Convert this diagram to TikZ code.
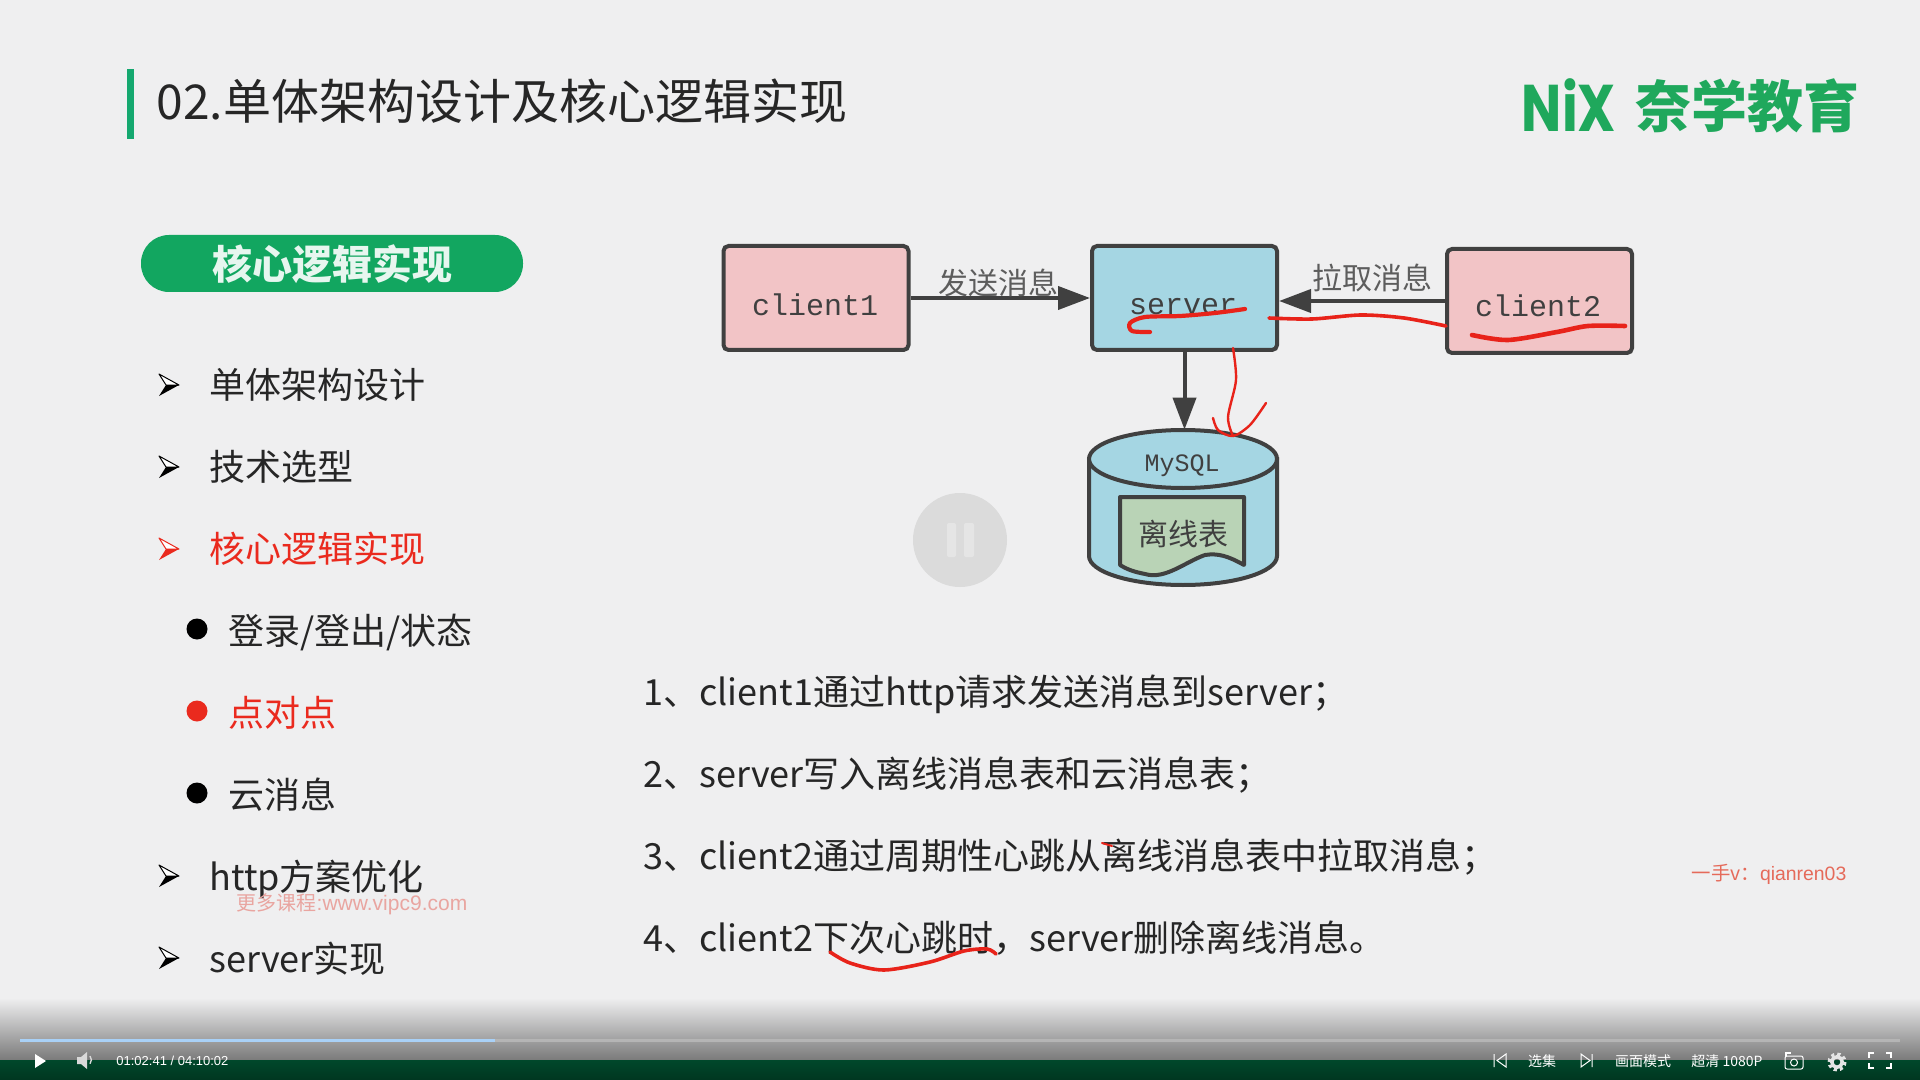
\documentclass[tikz,border=0pt]{standalone}
\usepackage{fontspec}
\setmainfont{Noto Sans CJK SC}
\newfontfamily\arialfont{Liberation Sans}
\newfontfamily\monofont{Liberation Mono}
\newfontfamily\logofont{Poppins}
\usetikzlibrary{arrows.meta}
\definecolor{bgc}{HTML}{EFEFF0}
\definecolor{barc}{HTML}{14A86F}
\definecolor{pillc}{HTML}{12A660}
\definecolor{logoc}{HTML}{1FA85C}
\definecolor{inkc}{HTML}{262626}
\definecolor{redc}{HTML}{EA2A1E}
\definecolor{linec}{HTML}{404040}
\definecolor{pinkc}{HTML}{F2C4C6}
\definecolor{bluec}{HTML}{A5D6E3}
\definecolor{greenc}{HTML}{B9D3B6}
\definecolor{handc}{HTML}{E8231A}
\definecolor{fadec}{HTML}{7A7A7A}
\definecolor{darkatop}{HTML}{00482B}
\definecolor{darkabot}{HTML}{003620}
\definecolor{barblue}{HTML}{A9D1F7}
\definecolor{markc}{HTML}{E9A5A0}
\definecolor{markd}{HTML}{E56A5A}
\tikzset{
  txt/.style={anchor=base west, inner sep=0, text=inkc, font=\fontsize{18}{18}\selectfont},
  redtxt/.style={txt, text=redc},
  box/.style={draw=linec, line width=2pt, rounded corners=2.5pt, minimum width=92.5pt, minimum height=52pt, inner sep=0},
  boxlbl/.style={inner sep=0, text=linec, font=\monofont\fontsize{15}{15}\selectfont},
  msg/.style={inner sep=0, text=linec!85, font=\fontsize{15}{15}\selectfont},
  link/.style={draw=linec, line width=2pt, -{Triangle[length=16pt,width=11.5pt]}},
  hand/.style={handc, line width=1.8pt, line cap=round, line join=round},
  ctl/.style={inner sep=0, text=white, font=\fontsize{7}{7}\selectfont},
  dot/.style={circle, fill, minimum size=10.5pt, inner sep=0},
}
\newcommand{\arrowbullet}[3]{
  \filldraw[draw=#3, fill=white, line width=.5pt, line join=round] (#1-10,#2-11) -- (#1+10,#2) -- (#1-3,#2) -- cycle;
  \fill[#3] (#1-10,#2+11) -- (#1+10,#2) -- (#1-3,#2) -- cycle;
}
\begin{document}
\begin{tikzpicture}[x=.5pt,y=-.5pt]
\useasboundingbox (0,0) rectangle (1920,1080);
\fill[bgc] (0,0) rectangle (1920,1080);
\fill[barc] (127,69) rectangle (134,139);
\node[inner sep=0, anchor=west, text=inkc, font=\fontsize{24}{24}\selectfont] (title) at (156,101){02.单体架构设计及核心逻辑实现};
\node[inner sep=0, text=logoc, font=\logofont\bfseries\fontsize{33}{33}\selectfont] (logo0) at (1569,105){\scalebox{.81}[1]{NiX}};
\node[inner sep=0, text=logoc, font=\bfseries\fontsize{28}{28}\selectfont] (logo1) at (1747,106){奈学教育};
\node[rounded corners=14pt, fill=pillc, minimum width=191pt, minimum height=28.5pt, inner sep=0] (pill) at (332,263.5){};
\node[inner sep=0, text=white!90!pillc, font=\bfseries\fontsize{20}{20}\selectfont] (pilltxt) at (332,264){核心逻辑实现};
\arrowbullet{169}{385}{black}
\node[txt] (lid0) at (209,398){单体架构设计};
\arrowbullet{169}{467}{black}
\node[txt] (lid1) at (209,480){技术选型};
\arrowbullet{169}{549}{redc}
\node[redtxt] (lid2) at (209,562){核心逻辑实现};
\node[dot, black] (dot0) at (197,629){};
\node[txt] (lid3) at (228,644){登录/登出/状态};
\node[dot, redc] (dot1) at (197,711){};
\node[redtxt] (lid4) at (228,726){点对点};
\node[dot, black] (dot2) at (197,793){};
\node[txt] (lid5) at (228,808){云消息};
\arrowbullet{169}{876}{black}
\node[txt] (lid6) at (209,890){http方案优化};
\arrowbullet{169}{958}{black}
\node[txt] (lid7) at (209,972){server实现};
\node[inner sep=0, text=markc, font=\fontsize{10}{10}\selectfont] (mark0) at (352,904){更多课程{\arialfont\fontsize{10.5}{10}\selectfont :www.vipc9.com}};
\node[box, fill=pinkc] (client1) at (816,298){};
\node[box, fill=bluec] (server) at (1184.5,298){};
\node[box, fill=pinkc] (client2) at (1539.5,301){};
\node[boxlbl] (c1lbl) at (815,305){client1};
\node[boxlbl] (srvlbl) at (1183,307){server};
\node[boxlbl] (c2lbl) at (1538,306){client2};
\draw[link](client1) -- (server);
\draw[link](client2.west) -- (server.east |- client2.west);
\node[msg] (msg0) at (998,283){发送消息};
\node[msg] (msg1) at (1372,278){拉取消息};
\node[minimum width=94pt, minimum height=77.5pt, inner sep=0] (mysql) at (1184.5,507.5){};
\filldraw[draw=linec, line width=2pt, fill=bluec] (1089,459) -- (1089,556) .. controls (1089,572) and (1131,585) .. (1183,585) .. controls (1235,585) and (1277,572) .. (1277,556) -- (1277,459) -- cycle;
\filldraw[draw=linec, line width=2pt, fill=bluec] (1183,459) ellipse [x radius=47pt, y radius=14.5pt];
\draw[link](server.south) -- (mysql.north);
\node[inner sep=0, text=linec, font=\monofont\fontsize{12.5}{13}\selectfont] (dblbl) at (1182,466){MySQL};
\draw[linec, line width=2pt, fill=greenc, line join=round] (1120,497) -- (1244,497) -- (1244,565) .. controls (1228,556) and (1218,553) .. (1205,555) .. controls (1185,562) and (1165,580) .. (1145,574) .. controls (1135,572) and (1128,570) .. (1120,565) -- cycle;
\node[msg, text=linec] (tbl) at (1183,534){离线表};
\draw[hand, line width=2.1pt] plot[smooth] coordinates {(1150,332) (1132,331) (1130,323) (1145,317) (1180,316) (1215,313) (1245,309)};
\draw[hand] plot[smooth] coordinates {(1269,318) (1312,319) (1361,315) (1404,318) (1446,326)};
\draw[hand, line width=2.3pt] plot[smooth] coordinates {(1472,335) (1508,340) (1557,332) (1588,326) (1625,326)};
\draw[hand, line width=1.2pt] plot[smooth] coordinates {(1233,348) (1236,380) (1228,417) (1233,436)};
\draw[hand, line width=1.2pt] plot[smooth] coordinates {(1213,418) (1218,430) (1233,436) (1250,425) (1266,403)};
\node[txt] (nid0) at (643,705){1、client1通过http请求发送消息到server；};
\node[txt] (nid1) at (643,787){2、server写入离线消息表和云消息表；};
\node[txt] (nid2) at (643,869){3、client2通过周期性心跳从离线消息表中拉取消息；};
\node[txt] (nid3) at (643,951){4、client2下次心跳时，server删除离线消息。};
\draw[hand, line width=1pt] (1102,843) -- (1112,846);
\draw[hand] plot[smooth] coordinates {(830,952) (850,963) (884,970) (930,962) (964,951) (987,949) (996,954)};
\node[inner sep=0, text=markd, font=\fontsize{9.7}{10}\selectfont] (mark1) at (1769,874){一手v：{\arialfont qianren03}};
\node[circle, fill=black!14, minimum size=47pt, inner sep=0] (pause) at (960,540){};
\fill[white!90!black, rounded corners=1pt] (947,523) rectangle (956,557);
\fill[white!90!black, rounded corners=1pt] (964,523) rectangle (974,557);
\shade[top color=bgc, bottom color=fadec] (0,998) rectangle (1920,1060);
\shade[top color=darkatop, bottom color=darkabot] (0,1060) rectangle (1920,1080);
\fill[black!29] (20,1039) rectangle (1900,1042);
\fill[barblue] (20,1039) rectangle (495,1042);
\fill[white] (35,1054) -- (46,1061) -- (35,1068) -- cycle;
\fill[white!85!black] (77,1057) -- (81,1057) -- (87,1052) -- (87,1069) -- (81,1064) -- (77,1064) -- cycle;
\draw[white!85!black, line width=.7pt] (90,1056) arc (-40:40:6);
\node[ctl, anchor=west, font=\arialfont\fontsize{6.5}{7}\selectfont] (time) at (116,1061){01:02:41 / 04:10:02};
\draw[white, line width=.5pt] (1494,1054) -- (1494,1067) (1506,1054) -- (1497,1060.5) -- (1506,1067) -- cycle;
\node[ctl] (sel) at (1542,1061){选集};
\draw[white, line width=.5pt] (1592,1054) -- (1592,1067) (1581,1054) -- (1590,1060.5) -- (1581,1067) -- cycle;
\node[ctl] (mode) at (1643,1061){画面模式};
\node[ctl] (hd) at (1727,1061){超清 1080P};
\draw[white, line width=.5pt, rounded corners=1pt] (1785,1056) rectangle (1803,1069);
\draw[white, line width=.5pt] (1794,1062.5) circle (3.5);
\draw[white, line width=.6pt] (1786,1056) -- (1786,1053) -- (1791,1053);
\draw[white!90!black, line width=1.75pt] (1837,1062) circle (5.25);
\draw[white!90!black, line width=1.5pt, dash pattern=on 1.6pt off 1.54pt] (1837,1062) circle (8);
\draw[white, line width=.7pt] (1869,1058) -- (1869,1053) -- (1874,1053) (1886,1053) -- (1891,1053) -- (1891,1058) (1891,1063) -- (1891,1068) -- (1886,1068) (1874,1068) -- (1869,1068) -- (1869,1063);
\end{tikzpicture}
\end{document}
